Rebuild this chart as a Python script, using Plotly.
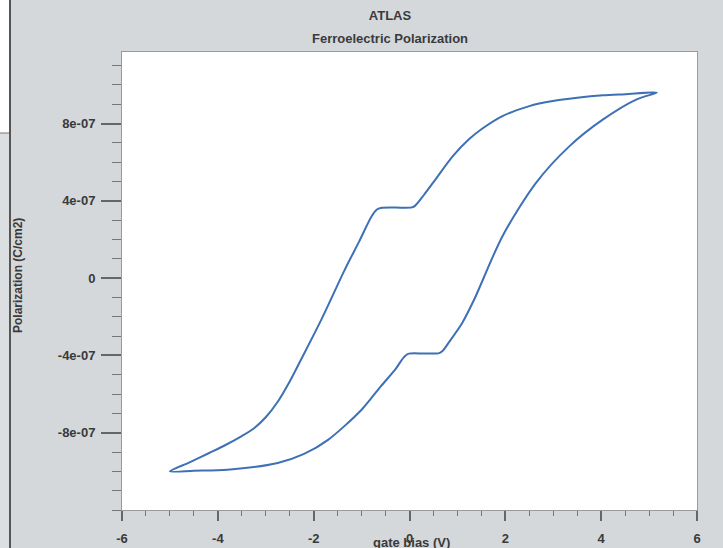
import plotly.graph_objects as go

# Descending branch (from +V tip back to -V tip)
v_down = [5.16, 4.5, 4.04, 3.5, 2.99, 2.5, 1.94, 1.5, 1.24, 0.9, 0.54, 0.3, 0.12, 0.05,
          -0.3, -0.6, -0.68, -0.79, -1.05, -1.35, -1.84, -2.26, -2.5, -2.75, -3.0,
          -3.25, -3.52, -3.85, -4.18, -4.6, -5.0]
p_down = [9.6e-7, 9.52e-7, 9.46e-7, 9.33e-7, 9.16e-7, 8.9e-7, 8.38e-7, 7.7e-7, 7.18e-7,
          6.3e-7, 5.1e-7, 4.3e-7, 3.75e-7, 3.66e-7, 3.65e-7, 3.63e-7, 3.55e-7, 3.2e-7,
          1.9e-7, 0.44e-7, -2.15e-7, -4.2e-7, -5.35e-7, -6.4e-7, -7.2e-7, -7.78e-7,
          -8.2e-7, -8.65e-7, -9.05e-7, -9.55e-7, -1.0e-6]
# Ascending branch (from -V tip to +V tip)
v_up = [-5.0, -4.5, -3.8, -2.75, -2.2, -1.7, -1.0, -0.6, -0.3, -0.12, -0.03, 0.3, 0.62,
        0.7, 0.8, 1.1, 1.35, 1.94, 2.64, 3.34, 4.04, 4.74, 5.16]
p_up = [-1.0e-6, -9.97e-7, -9.92e-7, -9.57e-7, -9.1e-7, -8.37e-7, -6.81e-7, -5.6e-7,
        -4.74e-7, -4.1e-7, -3.92e-7, -3.9e-7, -3.88e-7, -3.75e-7, -3.4e-7, -2.32e-7,
        -1.11e-7, 2.17e-7, 4.93e-7, 6.83e-7, 8.21e-7, 9.25e-7, 9.6e-7]

x_tickvals = [-6, -4, -2, 0, 2, 4, 6]
x_ticktext = ["-6", "-4", "-2", "0", "2", "4", "6"]
y_tickvals = [-8e-7, -4e-7, 0, 4e-7, 8e-7]
y_ticktext = ["-8e-07", "-4e-07", "0", "4e-07", "8e-07"]

title_main = "ATLAS"
title_sub = "Ferroelectric Polarization"
x_title = "gate bias (V)"
y_title = "Polarization (C/cm2)"

W, H = 723, 548
L, R, T, B = 122, 26, 52, 38
pw, ph = W - L - R, H - T - B

def px_x(px):
    return (px - L) / pw

def px_y(py):
    return (H - B - py) / ph

BG = "#d4d8db"
TXT = "#3a3a3a"
font_fam = "Liberation Sans, Arial, sans-serif"

fig = go.Figure()
fig.add_trace(go.Scatter(
    x=v_down + v_up[1:], y=p_down + p_up[1:], mode="lines",
    line=dict(color="#3d70b4", width=2, shape="spline", smoothing=0.8),
    showlegend=False, hoverinfo="x+y"))

fig.update_layout(
    width=W, height=H,
    paper_bgcolor=BG, plot_bgcolor="white",
    margin=dict(l=L, r=R, t=T, b=B, autoexpand=False),
    title=dict(text=title_main, x=390 / W, xref="container", xanchor="center",
               y=1 - 15 / H, yref="container", yanchor="middle",
               font=dict(family=font_fam, size=13, color=TXT, weight="bold")),
    font=dict(family=font_fam, color=TXT),
    annotations=[
        dict(text=title_sub, x=px_x(390), y=px_y(38), xref="paper", yref="paper",
             xanchor="center", yanchor="middle", showarrow=False,
             font=dict(family=font_fam, size=13, color=TXT, weight="bold")),
        dict(text=x_title, x=px_x(411), y=px_y(542), xref="paper", yref="paper",
             xanchor="center", yanchor="middle", showarrow=False,
             font=dict(family=font_fam, size=13, color=TXT, weight="bold")),
        dict(text=y_title, x=px_x(18), y=px_y(276), xref="paper", yref="paper",
             xanchor="center", yanchor="middle", showarrow=False, textangle=-90,
             font=dict(family=font_fam, size=12, color=TXT, weight="bold")),
    ],
    shapes=[
        dict(type="rect", xref="paper", yref="paper", x0=px_x(0), x1=px_x(10),
             y0=px_y(0), y1=px_y(133), fillcolor="white", line=dict(width=0), layer="below"),
        dict(type="rect", xref="paper", yref="paper", x0=px_x(0), x1=px_x(10),
             y0=px_y(548), y1=px_y(133), fillcolor="#dcdfe1",
             line=dict(width=0), layer="below"),
        dict(type="line", xref="paper", yref="paper", x0=px_x(0), x1=px_x(10),
             y0=px_y(133), y1=px_y(133), line=dict(color="#777", width=1)),
        dict(type="line", xref="paper", yref="paper", x0=px_x(10), x1=px_x(10),
             y0=px_y(0), y1=px_y(548), line=dict(color="#555", width=2)),
    ],
)

fig.update_xaxes(
    range=[-6, 6], tickmode="array", tickvals=x_tickvals, ticktext=x_ticktext,
    ticks="outside", ticklen=10, tickwidth=1.5, tickcolor="#666",
    ticklabelstandoff=6,
    minor=dict(tick0=0, dtick=0.5, ticks="outside", ticklen=5, tickcolor="#777", tickwidth=1),
    showgrid=False, zeroline=False, showline=True, mirror=True, linecolor="#9a9a9a",
    linewidth=1,
    tickfont=dict(family=font_fam, size=13, color=TXT, weight="bold"))

fig.update_yaxes(
    range=[-1.2e-6, 1.17e-6], tickmode="array", tickvals=y_tickvals, ticktext=y_ticktext,
    ticks="outside", ticklen=20, tickwidth=1.5, tickcolor="#666",
    ticklabelstandoff=3,
    minor=dict(tick0=0, dtick=1e-7, ticks="outside", ticklen=9, tickcolor="#777", tickwidth=1),
    showgrid=False, zeroline=False, showline=True, mirror=True, linecolor="#9a9a9a",
    linewidth=1,
    tickfont=dict(family=font_fam, size=13, color=TXT, weight="bold"))

fig.write_html("out.html", config={"displayModeBar": False},
               post_script="document.body.style.margin='0';")
